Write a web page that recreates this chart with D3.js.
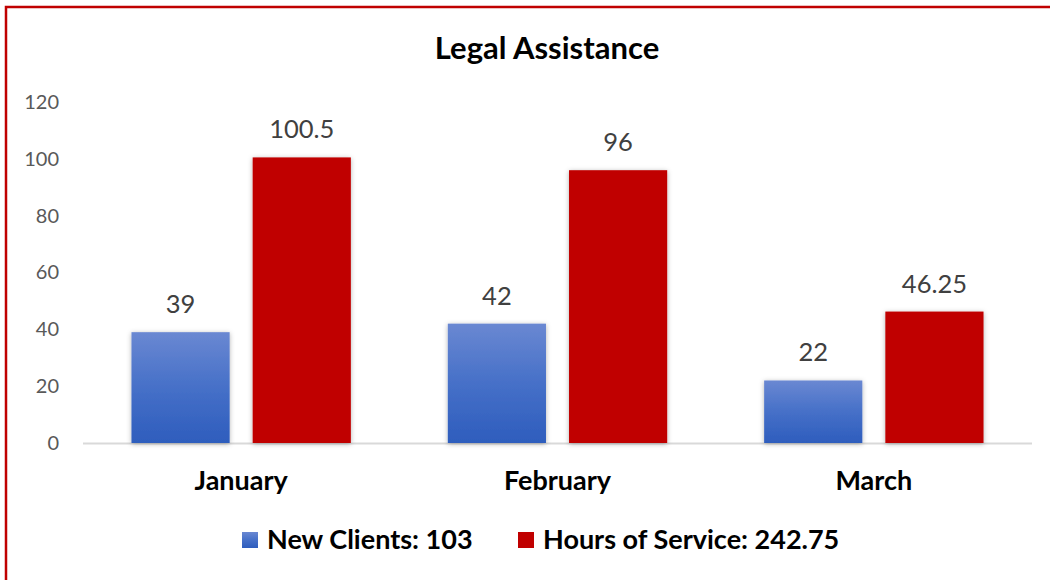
<!DOCTYPE html>
<html>
<head>
<meta charset="utf-8">
<script src="https://cdn.jsdelivr.net/npm/d3@7"></script>
<style>
  body { margin: 0; background: #fff; }
  svg { display: block; font-family: Lato, "Open Sans", sans-serif; }
</style>
</head>
<body>
<svg width="1050" height="580"></svg>
<script>
// chart data
const months = ["January", "February", "March"];
const seriesNames = ["New Clients", "Hours of Service"];
const newClients = [39, 42, 22];
const hoursOfService = [100.5, 96, 46.25];
const yTicks = [0, 20, 40, 60, 80, 100, 120];
const legendLabels = ["New Clients: 103", "Hours of Service: 242.75"];

let svg = d3.select("svg");
let margin = {top: 102, left: 83, right: 18, bottom: 137};
let width = 1050 - margin.left - margin.right, height = 580 - margin.top - margin.bottom;

// frame (red border, open at right and bottom)
svg.append("rect").attr("x", 6).attr("y", 7).attr("width", 1100).attr("height", 600)
  .attr("fill", "none").attr("stroke", "#c00000").attr("stroke-width", 2.5);

let defs = svg.append("defs");
let grad = defs.append("linearGradient").attr("id", "blueGrad").attr("x1", 0).attr("y1", 0).attr("x2", 0).attr("y2", 1);
grad.append("stop").attr("offset", "0%").attr("stop-color", "#6a88d2");
grad.append("stop").attr("offset", "50%").attr("stop-color", "#4670c8");
grad.append("stop").attr("offset", "100%").attr("stop-color", "#2e5dbd");
let shadow = defs.append("filter").attr("id", "shadow").attr("x", "-20%").attr("y", "-10%").attr("width", "140%").attr("height", "120%");
shadow.append("feDropShadow").attr("dx", 0).attr("dy", 1).attr("stdDeviation", 2.5).attr("flood-color", "#000").attr("flood-opacity", 0.3);

let colors = ["url(#blueGrad)", "#c00000"];

let data = months.map((m, i) => ({month: m, values: [newClients[i], hoursOfService[i]]}));

let x0 = d3.scaleBand().domain(months).range([0, width]).padding(0);
let x1 = d3.scaleBand().domain(seriesNames).range([0, x0.bandwidth()]).paddingInner(0.19).paddingOuter(0.4);
let y = d3.scaleLinear().domain([0, 120]).range([height, 0]);

let g = svg.append("g").attr("transform", "translate(" + margin.left + "," + margin.top + ")");

// title
svg.append("text").attr("x", 547).attr("y", 59).attr("text-anchor", "middle")
  .attr("font-size", "31px").attr("font-weight", "bold").attr("fill", "#000").text("Legal Assistance");

// y axis labels
let yAxis = g.append("g").call(d3.axisLeft(y).tickValues(yTicks).tickSize(0).tickPadding(24));
yAxis.select(".domain").remove();
yAxis.selectAll("text").attr("font-size", "20px").attr("fill", "#595959").attr("font-family", "Lato, sans-serif");

// baseline
g.append("line").attr("x1", 0).attr("x2", width).attr("y1", y(0) + 0.5).attr("y2", y(0) + 0.5)
  .attr("stroke", "#d9d9d9").attr("stroke-width", 2);

let groups = g.selectAll(".group").data(data).enter().append("g")
  .attr("class", "group").attr("transform", d => "translate(" + x0(d.month) + ",0)");

groups.selectAll("rect").data(d => d.values.map((v, i) => ({key: seriesNames[i], value: v, i: i})))
  .enter().append("rect")
  .attr("x", d => x1(d.key))
  .attr("y", d => y(d.value))
  .attr("width", x1.bandwidth())
  .attr("height", d => y(0) - y(d.value))
  .attr("fill", d => colors[d.i])
  .attr("filter", "url(#shadow)");

groups.selectAll(".lbl").data(d => d.values.map((v, i) => ({key: seriesNames[i], value: v})))
  .enter().append("text")
  .attr("class", "lbl")
  .attr("x", d => x1(d.key) + x1.bandwidth() / 2)
  .attr("y", d => y(d.value) - 19)
  .attr("text-anchor", "middle")
  .attr("font-size", "25.5px").attr("fill", "#404040")
  .text(d => d.value);

// x axis labels
let xAxis = g.append("g").attr("transform", "translate(0," + height + ")")
  .call(d3.axisBottom(x0).tickSize(0).tickPadding(28));
xAxis.select(".domain").remove();
xAxis.selectAll("text").attr("font-size", "27px").attr("font-weight", "bold").attr("fill", "#000")
  .attr("font-family", "Lato, sans-serif");

// legend
let legendX = [242, 518];
let legend = svg.selectAll(".legend").data(legendLabels).enter().append("g")
  .attr("class", "legend").attr("transform", (d, i) => "translate(" + legendX[i] + ",532)");
legend.append("rect").attr("width", 16).attr("height", 16).attr("fill", (d, i) => colors[i]);
legend.append("text").attr("x", 25).attr("y", 17).attr("font-size", "27px").attr("font-weight", "bold")
  .attr("fill", "#000").text(d => d);
</script>
</body>
</html>
